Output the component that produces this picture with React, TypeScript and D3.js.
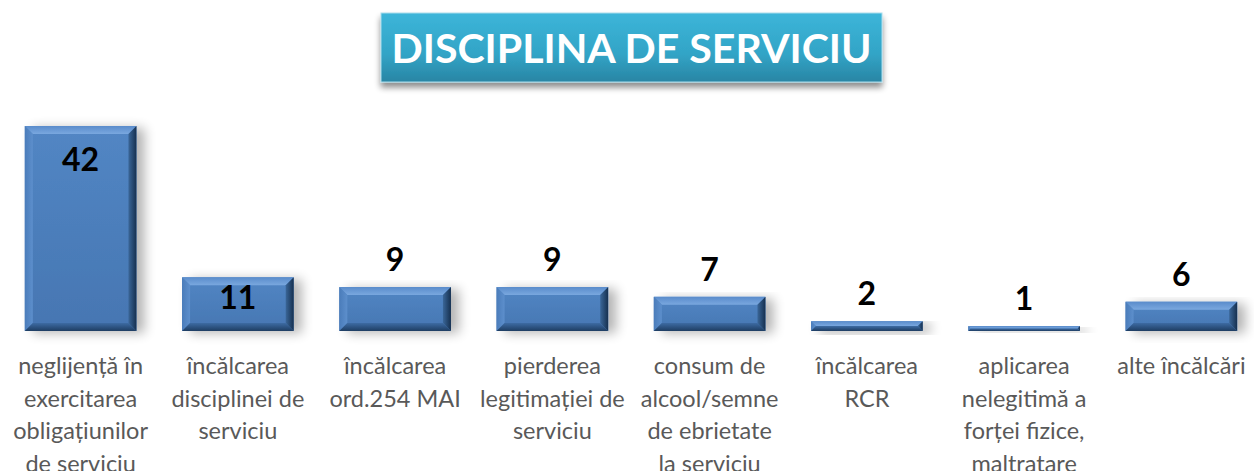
import React from "react";
import * as d3 from "d3";

const categories: string[][] = [
  ["neglijență în", "exercitarea", "obligațiunilor", "de serviciu"],
  ["încălcarea", "disciplinei de", "serviciu"],
  ["încălcarea", "ord.254 MAI"],
  ["pierderea", "legitimației de", "serviciu"],
  ["consum de", "alcool/semne", "de ebrietate", "la serviciu"],
  ["încălcarea", "RCR"],
  ["aplicarea", "nelegitimă a", "forței fizice,", "maltratare"],
  ["alte încălcări"],
];
const values: number[] = [42, 11, 9, 9, 7, 2, 1, 6];
const title = "DISCIPLINA DE SERVICIU";

const W = 1254;
const H = 471;

export default function App() {
  const keys = categories.map((_, i) => String(i));
  const x = d3.scaleBand<string>().domain(keys).range([2, 1260]).paddingInner(0.29).paddingOuter(0.145);
  const y = d3.scaleLinear().domain([0, 45]).range([331, 111.4]);
  const bw = x.bandwidth();
  const labelFont = "Lato, 'Open Sans', sans-serif";

  return (
    <svg width={W} height={H} style={{ position: "absolute", left: 0, top: 0, background: "#fff" }}>
      <defs>
        <linearGradient id="titleGrad" x1="0" y1="0" x2="0" y2="1">
          <stop offset="0" stopColor="#3cb5d9" />
          <stop offset="0.6" stopColor="#32a4c6" />
          <stop offset="1" stopColor="#2985a4" />
        </linearGradient>
        <filter id="tshadow" x="-5%" y="-20%" width="110%" height="160%">
          <feGaussianBlur in="SourceAlpha" stdDeviation="3" />
          <feOffset dx="0" dy="5" result="b" />
          <feComponentTransfer><feFuncA type="linear" slope="0.45" /></feComponentTransfer>
          <feMerge><feMergeNode /><feMergeNode in="SourceGraphic" /></feMerge>
        </filter>
        <filter id="bshadow" x="-20%" y="-20%" width="160%" height="160%">
          <feGaussianBlur in="SourceAlpha" stdDeviation="6" />
          <feOffset dx="8" dy="2" />
          <feComponentTransfer><feFuncA type="linear" slope="0.3" /></feComponentTransfer>
          <feMerge><feMergeNode /><feMergeNode in="SourceGraphic" /></feMerge>
        </filter>
        <linearGradient id="face" x1="0" y1="0" x2="0" y2="1">
          <stop offset="0" stopColor="#5286c4" />
          <stop offset="1" stopColor="#4676b2" />
        </linearGradient>
        <linearGradient id="topBev" x1="0" y1="0" x2="0" y2="1">
          <stop offset="0" stopColor="#5a8ccb" />
          <stop offset="1" stopColor="#7aa8df" />
        </linearGradient>
        <linearGradient id="leftBev" x1="0" y1="0" x2="1" y2="0">
          <stop offset="0" stopColor="#4a7cba" />
          <stop offset="1" stopColor="#5d8fcc" />
        </linearGradient>
        <linearGradient id="rightBev" x1="0" y1="0" x2="1" y2="0">
          <stop offset="0" stopColor="#3a6698" />
          <stop offset="1" stopColor="#16304f" />
        </linearGradient>
        <linearGradient id="botBev" x1="0" y1="0" x2="0" y2="1">
          <stop offset="0" stopColor="#3d6ba3" />
          <stop offset="1" stopColor="#1e3d62" />
        </linearGradient>
      </defs>

      <g filter="url(#tshadow)">
        <rect x={381} y={13} width={501} height={69} fill="url(#titleGrad)" stroke="#a9dcec" strokeWidth={1} />
      </g>
      <text x={631.5} y={63} textAnchor="middle" fill="#fff" fontFamily={labelFont} fontWeight={700} fontSize={41}
        textLength={480} lengthAdjust="spacingAndGlyphs">{title}</text>

      {values.map((v, i) => {
        const x0 = x(String(i))!;
        const x1 = x0 + bw;
        const y0 = y(v);
        const y1 = y(0);
        const h = y1 - y0;
        const b = Math.min(8, h / 2);
        return (
          <g key={i}>
            <g filter="url(#bshadow)">
              <rect x={x0} y={y0} width={bw} height={h} fill="url(#face)" />
            </g>
            <polygon points={`${x0},${y0} ${x1},${y0} ${x1 - b},${y0 + b} ${x0 + b},${y0 + b}`} fill="url(#topBev)" />
            <polygon points={`${x0},${y0} ${x0 + b},${y0 + b} ${x0 + b},${y1 - b} ${x0},${y1}`} fill="url(#leftBev)" />
            <polygon points={`${x1},${y0} ${x1},${y1} ${x1 - b},${y1 - b} ${x1 - b},${y0 + b}`} fill="url(#rightBev)" />
            <polygon points={`${x0},${y1} ${x1},${y1} ${x1 - b},${y1 - b} ${x0 + b},${y1 - b}`} fill="url(#botBev)" />
          </g>
        );
      })}

      {values.map((v, i) => {
        const cx = x(String(i))! + bw / 2;
        const inside = v >= 10;
        const top = y(v);
        const ty = v >= 20 ? top + 45 : inside ? top + 32 : top - 16;
        return (
          <text key={i} x={cx} y={ty} textAnchor="middle" fontFamily={labelFont} fontWeight={700} fontSize={32} fill="#000">
            {v}
          </text>
        );
      })}

      {categories.map((lines, i) => {
        const cx = x(String(i))! + bw / 2;
        return (
          <text key={i} textAnchor="middle" fontFamily={labelFont} fontSize={23.5} fill="#595959">
            {lines.map((l, j) => (
              <tspan key={j} x={cx} y={374 + j * 32.5}>{l}</tspan>
            ))}
          </text>
        );
      })}
    </svg>
  );
}
